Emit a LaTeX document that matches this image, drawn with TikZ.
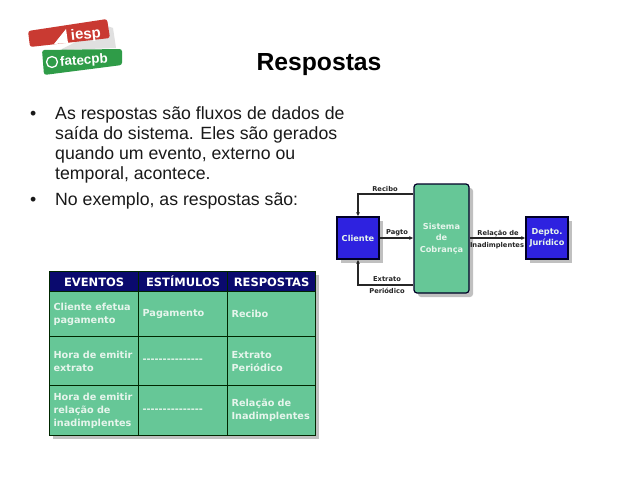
\documentclass[tikz,border=0pt]{standalone}
\usepackage{fontspec}
\setmainfont{Liberation Sans}
\newfontfamily\verdanafont{DejaVu Sans}
\usepackage{xcolor}
\usetikzlibrary{arrows.meta,calc,positioning,shadows}

\definecolor{tablegreen}{HTML}{66C797}
\definecolor{headnavy}{HTML}{0A0A6E}
\definecolor{boxblue}{HTML}{2E22E0}
\definecolor{softwhite}{HTML}{E6F5EC}
\definecolor{logored}{HTML}{C93A32}
\definecolor{logogreen}{HTML}{2F9C48}

\tikzset{
    shadowed/.style={drop shadow={shadow xshift=4pt,shadow yshift=-4pt,fill=black!35,opacity=0.7}},
    cell/.style={draw=black!85!green, line width=1.2pt, fill=tablegreen, anchor=north west, inner sep=4pt, inner ysep=0pt,
        align=left, text=softwhite, font=\verdanafont\bfseries\fontsize{9.7}{13}\selectfont},
    headcell/.style={cell, fill=headnavy, text=white, align=center, text height=9pt, text depth=0pt, font=\verdanafont\bfseries\fontsize{11.5}{13}\selectfont},
    blockblue/.style={draw=black!85!blue, line width=1.2pt, fill=boxblue, text=softwhite, minimum width=42pt, minimum height=42pt,
        inner sep=0pt, align=center, font=\verdanafont\bfseries\fontsize{8.2}{11.5}\selectfont},
    blockgreen/.style={blockblue, rounded corners=3pt, fill=tablegreen},
    flow/.style={draw=black!85, line width=1.1pt, -{Latex[length=4pt,width=4pt]}},
    flowlabel/.style={text=black!85, inner sep=0pt, font=\verdanafont\bfseries\fontsize{6.7}{8}\selectfont},
    bodytext/.style={anchor=north west, inner sep=0pt, align=left, font=\fontsize{17.7}{20}\selectfont, text=black!90}
}

\begin{document}
\begin{tikzpicture}[x=1pt,y=1pt]
    \useasboundingbox (0,0) rectangle (638,-479);
    \fill[white] (0,0) rectangle (638,-479);

    % Logo
    \fill[black!12] (107,-26) -- (113,-28) -- (116,-48) -- (60,-50) -- cycle;
    \fill[logored, rounded corners=2.5pt] (28,-31) -- (107,-19) -- (110,-38) -- (30,-47) -- cycle;
    \fill[logogreen, rounded corners=2.5pt] (42,-50) -- (122,-49) -- (122,-65) -- (44,-75) -- cycle;
    \fill[white] (54,-44) -- (66,-29) -- (68,-43) -- cycle;
    \node[rotate=6, text=white, inner sep=0pt, font=\bfseries\fontsize{15}{15}\selectfont] (iesp) at (86,-35) {iesp};
    \node[rotate=4, text=white, inner sep=0pt, font=\bfseries\fontsize{13.5}{15}\selectfont] (fatec) at (84,-61) {fatecpb};
    \node[draw=white, line width=1.3pt, circle, inner sep=0pt, minimum size=11pt] (check) at (52,-62) {};

    % Title and text
    \node[inner sep=0pt, font=\bfseries\fontsize{24.7}{26}\selectfont] (title) at (319,-65) {Respostas};
    \node[bodytext] (bullet1) at (30,-105) {\strut •};
    \node[bodytext] (text1) at (55,-105) {\strut As respostas são fluxos de dados de\\saída do sistema. Eles são gerados\\quando um evento, externo ou\\temporal, acontece.};
    \node[bodytext] (bullet2) at (30,-191) {\strut •};
    \node[bodytext] (text2) at (55,-191) {\strut No exemplo, as respostas são:};

    % Table
    \fill[black!35, opacity=0.7] (53,-275) rectangle (319,-439);
    \node[headcell, minimum width=89pt, minimum height=20pt] (evh) at (49,-271) {EVENTOS};
    \node[headcell, minimum width=89pt, minimum height=20pt] (esh) at (138,-271) {ESTÍMULOS};
    \node[headcell, minimum width=88pt, minimum height=20pt] (reh) at (227,-271) {RESPOSTAS};

    \node[cell, text width=81pt, minimum height=45pt] (ev1) at (49,-291) {Cliente efetua\\pagamento};
    \node[cell, text width=81pt, minimum height=45pt] (es1) at (138,-291) {Pagamento};
    \node[cell, text width=80pt, minimum height=45pt] (re1) at (227,-291) {Recibo};

    \node[cell, text width=81pt, minimum height=49pt] (ev2) at (49,-336) {Hora de emitir\\extrato};
    \node[cell, text width=81pt, minimum height=49pt] (es2) at (138,-336) {---------------};
    \node[cell, text width=80pt, minimum height=49pt] (re2) at (227,-336) {Extrato\\Periódico};

    \node[cell, text width=81pt, minimum height=50pt] (ev3) at (49,-385) {Hora de emitir\\relação de\\inadimplentes};
    \node[cell, text width=81pt, minimum height=50pt] (es3) at (138,-385) {---------------};
    \node[cell, text width=80pt, minimum height=50pt] (re3) at (227,-385) {Relação de\\Inadimplentes};

    % Diagram
    \node[blockblue, shadowed] (cliente) at (358,-238) {Cliente};
    \node[blockgreen, shadowed, minimum width=55pt, minimum height=109pt] (sistema) at (441.5,-238.5) {Sistema\\de\\Cobrança};
    \node[blockblue, shadowed] (depto) at (547,-238) {Depto.\\Jurídico};

    \coordinate (reciboout) at (sistema.west |- 0,-194);
    \coordinate (extratoout) at (sistema.west |- 0,-285);

    \draw[flow] (reciboout) -| (cliente.north);
    \draw[flow] (cliente.east) -- (sistema.west |- cliente.east);
    \draw[flow] (sistema.east |- depto.west) -- (depto.west);
    \draw[flow] (extratoout) -| (cliente.south);

    \node[flowlabel] (recibo) at (385,-189) {Recibo};
    \node[flowlabel] (pagto) at (397,-233) {Pagto};
    \node[flowlabel] (extrato) at (387,-279) {Extrato};
    \node[flowlabel] (periodico) at (387,-291) {Periódico};
    \node[flowlabel] (relacao) at (498,-234) {Relação de};
    \node[flowlabel] (inadim) at (497,-246) {Inadimplentes};
\end{tikzpicture}
\end{document}
